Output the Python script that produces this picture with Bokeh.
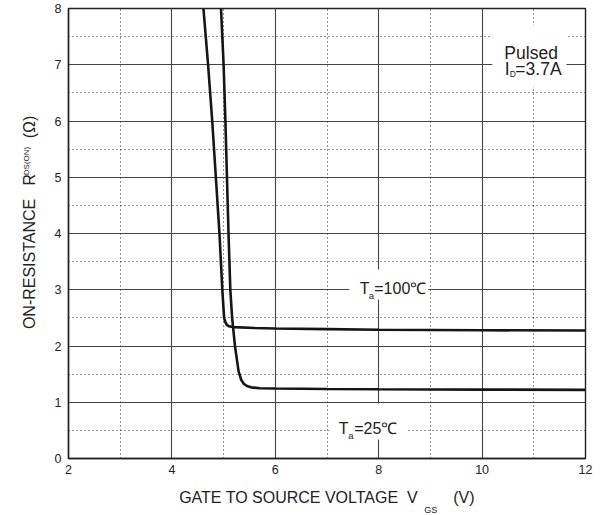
from bokeh.plotting import figure
from bokeh.models import (FixedTicker, Label, Range1d, LinearAxis,
                          CustomJSTickFormatter)
from bokeh.embed import file_html
from bokeh.resources import INLINE

# ---- data ----
vgs_100 = [4.61, 4.70, 4.78, 4.85, 4.92, 4.975, 5.01, 5.035, 5.06, 5.10, 5.20, 5.60, 6.0, 7.0, 8.0, 10.0, 12.0]
rds_100 = [8.0, 7.0, 6.0, 5.0, 4.0, 3.0, 2.5, 2.42, 2.38, 2.35, 2.335, 2.32, 2.31, 2.30, 2.29, 2.28, 2.275]

vgs_25 = [4.95, 5.00, 5.035, 5.065, 5.095, 5.13, 5.165, 5.22, 5.29, 5.34, 5.39, 5.45, 5.53, 5.70, 6.0, 7.0, 8.0, 10.0, 12.0]
rds_25 = [8.0, 7.0, 6.0, 5.0, 4.0, 3.0, 2.5, 2.0, 1.55, 1.40, 1.33, 1.29, 1.265, 1.25, 1.245, 1.235, 1.23, 1.225, 1.22]

x_ticks = [2, 4, 6, 8, 10, 12]
x_minor = [3, 5, 7, 9, 11]
y_ticks = [0, 1, 2, 3, 4, 5, 6, 7, 8]
y_minor = [0.5, 1.5, 2.5, 3.5, 4.5, 5.5, 6.5, 7.5]

FONT = "Liberation Sans"
TXT = "#222222"
NB = "\u00a0"

p = figure(frame_width=517, frame_height=450,
           min_border_left=68, min_border_right=14, min_border_top=8, min_border_bottom=40,
           x_range=Range1d(2, 12), y_range=Range1d(0, 8),
           output_backend="svg", toolbar_location=None)
p.background_fill_color = "white"
p.border_fill_color = "white"
p.outline_line_color = "#222222"
p.outline_line_width = 1.4

p.xaxis.ticker = FixedTicker(ticks=x_ticks, minor_ticks=x_minor)
p.yaxis.ticker = FixedTicker(ticks=y_ticks, minor_ticks=y_minor)
for ax in (p.xaxis, p.yaxis):
    ax.major_tick_in = 0
    ax.major_tick_out = 0
    ax.minor_tick_in = 0
    ax.minor_tick_out = 0
    ax.axis_line_color = "#222222"
    ax.axis_line_width = 1.4
    ax.major_label_text_font = FONT
    ax.major_label_text_font_size = "12.5px"
    ax.major_label_text_color = TXT
    ax.axis_label_text_font = FONT
    ax.axis_label_text_font_size = "16px"
    ax.axis_label_text_font_style = "normal"
    ax.axis_label_text_color = TXT
p.xaxis.major_label_standoff = 6
p.yaxis.major_label_standoff = 7

# axis titles: main text centred on the frame, like the reference
p.xaxis.axis_label = "GATE TO SOURCE VOLTAGE" + NB * 2 + "V" + NB * 8 + "(V)"
p.xaxis.axis_label_standoff = 12
p.yaxis.axis_label = NB * 5 + "ON-RESISTANCE" + NB * 3 + "R" + NB * 8 + "(\u03a9)"
p.yaxis.axis_label_standoff = 14

for g in (p.xgrid, p.ygrid):
    g.grid_line_color = "#444444"
    g.grid_line_width = 1.1
    g.grid_line_alpha = 1.0
    g.minor_grid_line_color = "#222222"
    g.minor_grid_line_width = 1.1
    g.minor_grid_line_dash = "1 3"

# reference pixel -> data helpers
def rx(px):
    return 2 + (px - 69.4) / 51.67

def ry(py):
    return (460 - py) / 56.25

def sub_axis(pos, text, size, standoff, orientation="horizontal"):
    return LinearAxis(ticker=FixedTicker(ticks=[pos]),
                      formatter=CustomJSTickFormatter(code="return '%s'" % text),
                      major_tick_in=0, major_tick_out=0,
                      minor_tick_in=0, minor_tick_out=0,
                      axis_line_color=None, major_label_standoff=standoff,
                      major_label_orientation=orientation,
                      major_label_text_font=FONT, major_label_text_font_size=size,
                      major_label_text_color=TXT)

# subscripts of V_GS and R_DS(ON), as single tick labels of extra axes
p.add_layout(sub_axis(rx(431.5), "GS", "9px", -4), "below")
p.add_layout(sub_axis(ry(162.5), "DS(ON)", "8px", -13, "vertical"), "left")

# white boxes behind labels
p.quad(left=[rx(493), rx(350), rx(330)], right=[rx(567), rx(429), rx(408)],
       top=[ry(27), ry(271), ry(405)], bottom=[ry(88), ry(301), ry(441)],
       fill_color="white", line_color=None)

p.line(vgs_100, rds_100, line_color="#151515", line_width=2.6)
p.line(vgs_25, rds_25, line_color="#151515", line_width=2.6)

def lab(x, y, text, size):
    p.add_layout(Label(x=x, y=y, text=text, text_font=FONT, text_font_size=size,
                       text_color=TXT, text_align="left", text_baseline="alphabetic"))

# legend
lab(rx(505), ry(54), "Pulsed", "17.5px")
lab(rx(505.5), ry(70.7), "I", "17.5px")
lab(rx(510.5), ry(75.5), "D", "8.5px")
lab(rx(516), ry(70.7), "=3.7A", "17.5px")

# Ta = 100
lab(rx(360.5), ry(290), "T", "16px")
lab(rx(369.5), ry(297), "a", "9.5px")
lab(rx(375), ry(290), "=100\u2103", "16px")

# Ta = 25
lab(rx(339.5), ry(430), "T", "16px")
lab(rx(349), ry(437), "a", "9.5px")
lab(rx(355), ry(430), "=25\u2103", "16px")

open("out.html", "w").write(file_html(p, INLINE))
